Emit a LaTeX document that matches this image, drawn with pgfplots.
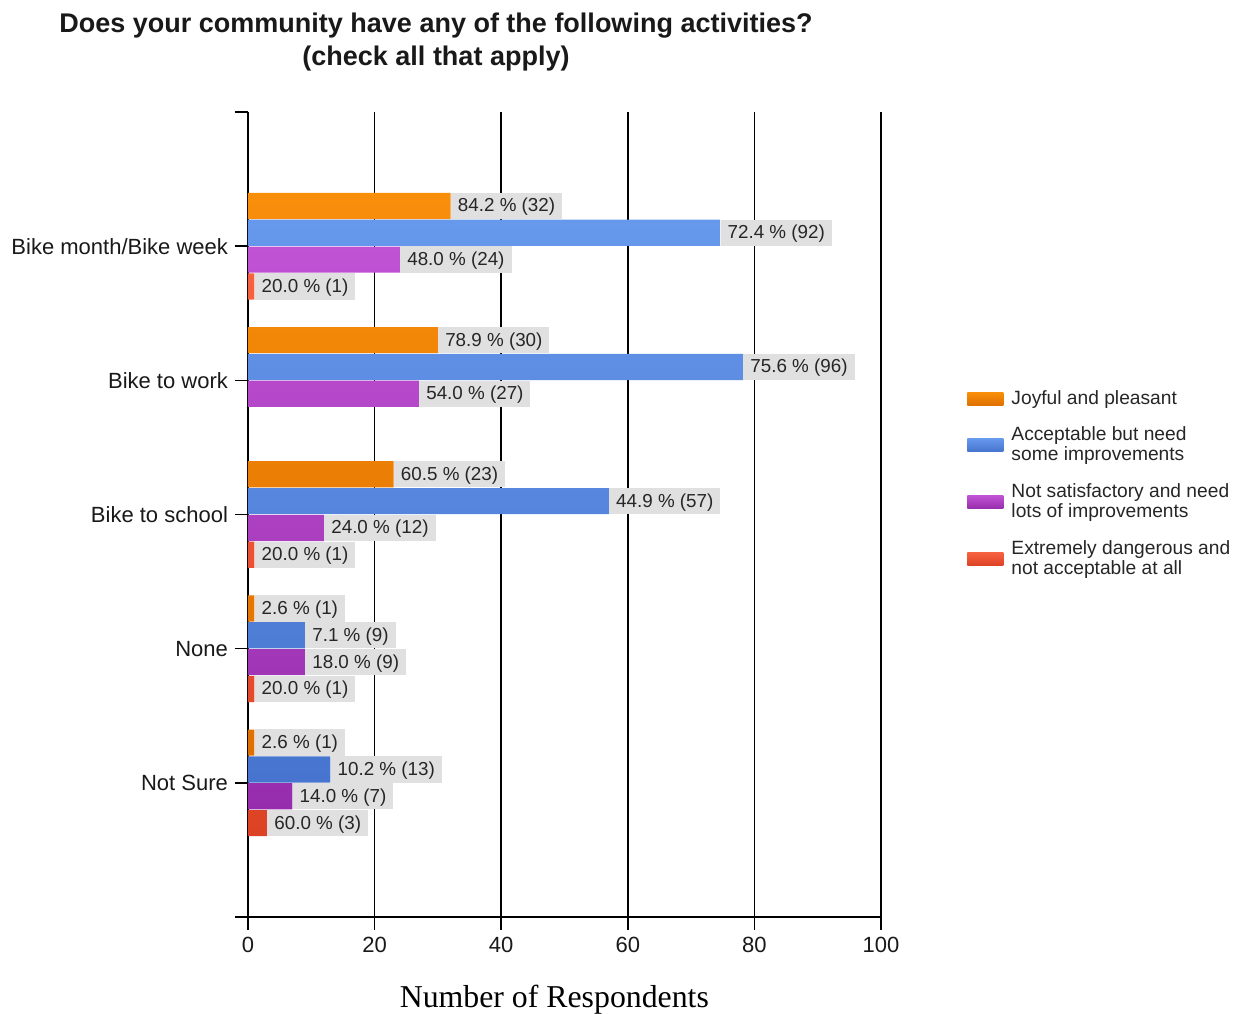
\documentclass[border=0pt]{standalone}
\usepackage{fontspec}
\setmainfont{Liberation Sans}
\newfontfamily\timesfont{Liberation Serif}
\usepackage{pgfplots}
\pgfplotsset{compat=1.18}
\definecolor{orTop}{RGB}{248,142,10}
\definecolor{orBot}{RGB}{222,112,0}
\definecolor{blTop}{RGB}{102,152,236}
\definecolor{blBot}{RGB}{70,116,206}
\definecolor{puTop}{RGB}{192,82,212}
\definecolor{puBot}{RGB}{150,45,172}
\definecolor{reTop}{RGB}{246,98,64}
\definecolor{reBot}{RGB}{220,66,36}
\definecolor{labgray}{RGB}{224,224,224}
\newcommand{\legbox}[2]{\parbox[c][#1][c]{115pt}{\raggedright #2}}
\begin{document}
\begin{tikzpicture}
\useasboundingbox (-124pt,-48pt) rectangle (494.5pt,458.5pt);
\begin{axis}[
  at={(0,0)}, anchor=south west,
  scale only axis, width=316.5pt, height=402.5pt,
  xmin=0, xmax=100, ymin=-1, ymax=5,
  xtick={0,20,...,100},
  ytick={0,...,4},
  yticklabels={Not Sure,None,Bike to school,Bike to work,Bike month/Bike week},
  extra y ticks={-1,5}, extra y tick labels={},
  axis lines=left,
  axis line style={-, line width=0.75pt, black},
  tick style={black, line width=0.75pt},
  tick align=outside, major tick length=6.5pt,
  xmajorgrids, grid style={black, line width=0.75pt},
  /pgf/number format/assume math mode=true,
  tick label style={font=\fontsize{11}{13}\selectfont, text=black!90},
  xlabel={Number of Respondents},
  xlabel style={font=\timesfont\fontsize{15.9}{18}\selectfont, at={(axis description cs:0.484,0)}, anchor=center, yshift=-41.5pt},
  xbar, bar width=0.195,
  nodes near coords,
  point meta=explicit symbolic,
  every node near coord/.style={font=\fontsize{9.4}{11}\selectfont, fill=labgray, inner xsep=3.5pt, inner ysep=2pt, text height=7.6pt, text depth=1.6pt, anchor=west, text=black!85},
  legend style={draw=none, fill=none, at={(axis description cs:1.136,0.6655)}, anchor=north west, inner sep=0pt, row sep=0pt, font=\fontsize{9.6}{10}\selectfont, nodes={inner ysep=0pt, inner xsep=4pt, text depth=, text=black!85}},
  legend cell align=left,
  legend image code/.code={\path[#1, draw=none] (0pt,-3.25pt) rectangle (18pt,3.25pt);},
]
\addplot[xbar, bar shift=0.3, draw=none, top color=orTop, bottom color=orBot, every node near coord/.append style={yshift=20.125pt}]
  table[x=x, y=y, meta=lab, col sep=comma, row sep=\\]{
  x,y,lab\\
  32,4,84.2 \% (32)\\
  30,3,78.9 \% (30)\\
  23,2,60.5 \% (23)\\
  1,1,2.6 \% (1)\\
  1,0,2.6 \% (1)\\
};
\addlegendentry{\legbox{17.5pt}{Joyful and pleasant}}
\addplot[xbar, bar shift=0.1, draw=none, top color=blTop, bottom color=blBot, every node near coord/.append style={yshift=6.708pt}]
  table[x=x, y=y, meta=lab, col sep=comma, row sep=\\]{
  x,y,lab\\
  74.6,4,72.4 \% (92)\\
  78.2,3,75.6 \% (96)\\
  57,2,44.9 \% (57)\\
  9,1,7.1 \% (9)\\
  13,0,10.2 \% (13)\\
};
\addlegendentry{\legbox{28.5pt}{Acceptable but need\\some improvements}}
\addplot[xbar, bar shift=-0.1, draw=none, top color=puTop, bottom color=puBot, every node near coord/.append style={yshift=-6.708pt}]
  table[x=x, y=y, meta=lab, col sep=comma, row sep=\\]{
  x,y,lab\\
  24,4,48.0 \% (24)\\
  27,3,54.0 \% (27)\\
  12,2,24.0 \% (12)\\
  9,1,18.0 \% (9)\\
  7,0,14.0 \% (7)\\
};
\addlegendentry{\legbox{28.5pt}{Not satisfactory and need\\lots of improvements}}
\addplot[xbar, bar shift=-0.3, draw=none, top color=reTop, bottom color=reBot, every node near coord/.append style={yshift=-20.125pt}]
  table[x=x, y=y, meta=lab, col sep=comma, row sep=\\]{
  x,y,lab\\
  1,4,20.0 \% (1)\\
  1,2,20.0 \% (1)\\
  1,1,20.0 \% (1)\\
  3,0,60.0 \% (3)\\
};
\addlegendentry{\legbox{28.5pt}{Extremely dangerous and\\not acceptable at all}}
\end{axis}
\node[font=\bfseries\fontsize{13.5}{16.5}\selectfont, align=center, text=black!90] at (94pt,437.5pt) {Does your community have any of the following activities?\\(check all that apply)};
\end{tikzpicture}
\end{document}
